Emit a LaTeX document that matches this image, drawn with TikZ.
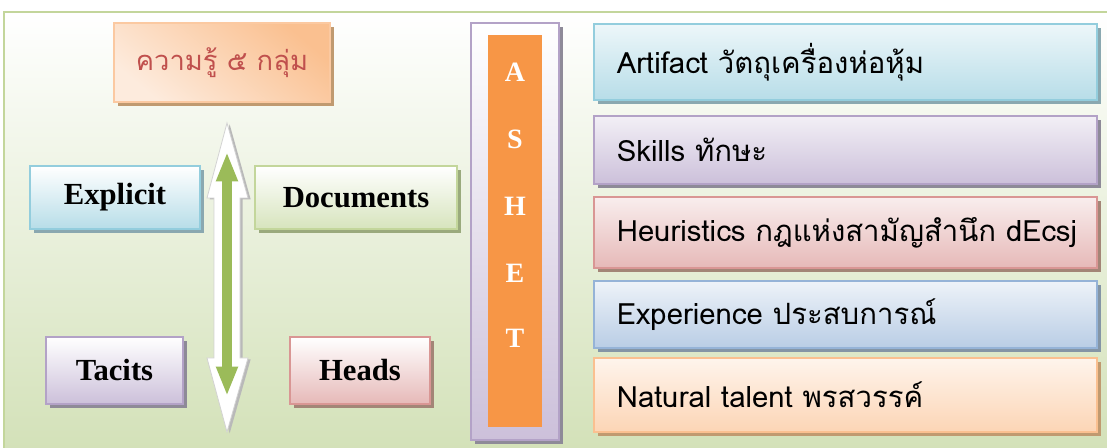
\documentclass[tikz,border=0pt]{standalone}
\usepackage{fontspec}
\setmainfont{Liberation Serif}
\newfontfamily\thaifont[Script=Thai]{Loma}
\usetikzlibrary{shadows,arrows.meta}
\definecolor{frameGreen}{HTML}{C3D69B}
\definecolor{bgGreen}{HTML}{D3E1B8}
\definecolor{titleOrange}{HTML}{FAC090}
\definecolor{titleLight}{HTML}{FDEBDD}
\definecolor{titleRed}{HTML}{C0504D}
\definecolor{blueLine}{HTML}{93CDDD}
\definecolor{blueFill}{HTML}{B7DDE8}
\definecolor{blueShade}{HTML}{8AA8B0}
\definecolor{greenLine}{HTML}{C3D69B}
\definecolor{greenFill}{HTML}{D7E4BD}
\definecolor{greenShade}{HTML}{9AAA7D}
\definecolor{purpleLine}{HTML}{B3A2C7}
\definecolor{purpleFill}{HTML}{CCC0DA}
\definecolor{purpleShade}{HTML}{8E8A98}
\definecolor{redLine}{HTML}{D99694}
\definecolor{redFill}{HTML}{E6B9B8}
\definecolor{redShade}{HTML}{A38577}
\definecolor{skyLine}{HTML}{95B3D7}
\definecolor{skyFill}{HTML}{B9CDE5}
\definecolor{skyShade}{HTML}{8495A5}
\definecolor{peachLine}{HTML}{FAC090}
\definecolor{peachFill}{HTML}{FCD5B5}
\definecolor{peachShade}{HTML}{C09A70}
\definecolor{ashetOrange}{HTML}{F79646}
\definecolor{arrowGreen}{HTML}{9BBB59}
\begin{document}
\begin{tikzpicture}
[x=0.75pt,y=-0.75pt,
  boxDecorate/.style={rectangle,line width=1.5pt,inner sep=0pt},
  shadowDecorate/.style={drop shadow={shadow xshift=3pt,shadow yshift=-3pt,fill=#1,opacity=1}},
  serifLabel/.style={font=\fontsize{23}{26}\selectfont\bfseries,text=black},
  thaiLabel/.style={font=\thaifont\fontsize{22}{25}\selectfont,text=black,
    align=left,text width=343pt,inner xsep=17pt,inner ysep=0pt},
  letterDecorate/.style={font=\fontsize{21}{24}\selectfont\bfseries,text=white},
  arrowShell/.style={draw=gray!35,fill=white,line width=0.6pt,
    drop shadow={shadow xshift=2pt,shadow yshift=-1pt,fill=gray!55,opacity=1}},
  greenArrow/.style={{Triangle[width=15pt,length=22pt]}-{Triangle[width=15pt,length=22pt]},
    line width=7pt,draw=arrowGreen}]
\useasboundingbox (0,0) rectangle (1107,448);
%% background and frame
\fill[white] (0,0) rectangle (1107,448);
\fill[top color=white,bottom color=bgGreen] (4,12) rectangle (1112,452);
\draw[frameGreen,line width=1.5pt] (1112,12) -- (4,12) -- (4,452);
%% title and the four kinds
\node (title) at (222,62.5) [boxDecorate,shadowDecorate=peachShade,draw=titleOrange!85,
  top color=titleOrange,bottom color=titleLight,shading angle=-40,
  minimum width=162pt,minimum height=59pt,
  font=\thaifont\fontsize{20.5}{24}\selectfont,text=titleRed] {ความรู้ ๕ กลุ่ม};
\foreach \name/\x/\y/\w/\h/\col/\txt in {
  explicit/115/197.5/127.5/47/blue/Explicit,
  documents/356/197.5/151.5/47/green/Documents,
  tacits/114.5/370.5/103/50/purple/Tacits,
  heads/360/370.5/105/50/red/Heads}
{
  \node (\name) at (\x,\y) [boxDecorate,serifLabel,shadowDecorate=\col Shade,
    draw=\col Line,top color=white,bottom color=\col Fill,
    minimum width=\w pt,minimum height=\h pt] {\txt};
}
%% two-way arrow
\draw[arrowShell] (227,123) -- (248,198) -- (240,198) -- (240,358) -- (248,358)
  -- (227,432) -- (207,358) -- (214,358) -- (214,198) -- (207,198) -- cycle;
\coordinate (gTop) at (227,152);
\coordinate (gBot) at (227,396);
\draw[greenArrow] (gTop) -- (gBot);
%% ASHET column
\node (ashetFrame) at (515,231.5) [boxDecorate,shadowDecorate=purpleShade,
  draw=purpleLine,top color=white,bottom color=purpleFill,
  minimum width=66pt,minimum height=313pt] {};
\node (ashetBar) at (515,231) [rectangle,fill=ashetOrange,
  minimum width=40.5pt,minimum height=294pt] {};
\foreach \letter/\y in {A/72,S/139,H/206,E/273,T/338}
{
  \node (ashet\letter) at (515,\y) [letterDecorate] {\letter};
}
%% the five ASHET boxes
\foreach \name/\y/\h/\col/\txt in {
  artifact/62/57/blue/{Artifact วัตถุเครื่องห่อหุ้ม},
  skills/150/51/purple/{Skills ทักษะ},
  heuristics/232.5/53/red/{Heuristics กฎแห่งสามัญสำนึก dEcsj},
  experience/314.5/50/sky/{Experience ประสบการณ์},
  talent/395/56/peach/{Natural talent พรสวรรค์}}
{
  \node (\name) at (845.5,\y) [boxDecorate,thaiLabel,shadowDecorate=\col Shade,
    draw=\col Line,top color=\col Fill!25,bottom color=\col Fill,
    minimum height=\h pt] {\mbox{\txt}};
}
\end{tikzpicture}
\end{document}
